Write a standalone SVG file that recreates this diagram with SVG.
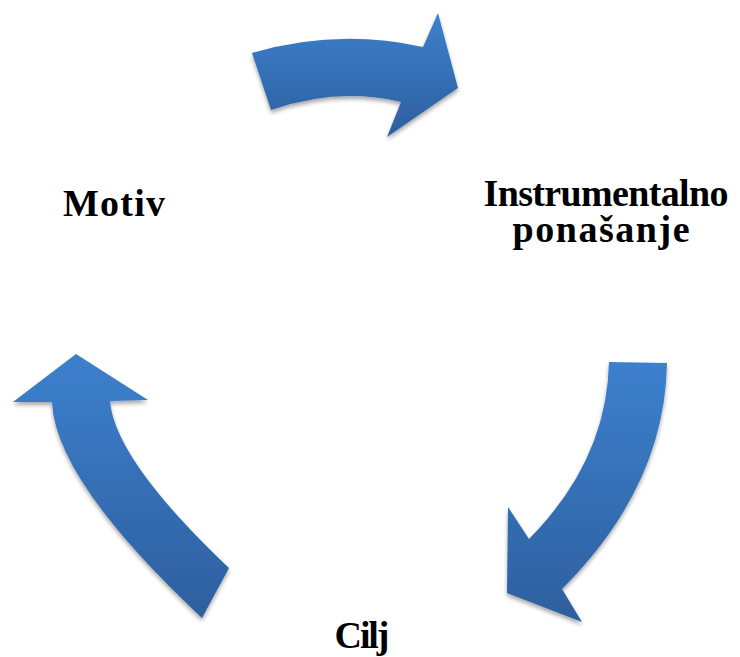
<svg xmlns="http://www.w3.org/2000/svg" width="740" height="657" viewBox="0 0 740 657">
<defs>
<linearGradient id="g" x1="0" y1="0" x2="0" y2="1">
<stop offset="0" stop-color="#3d80cd"/>
<stop offset="1" stop-color="#2d5f9f"/>
</linearGradient>
<filter id="sh" x="-20%" y="-20%" width="140%" height="140%">
<feGaussianBlur in="SourceAlpha" stdDeviation="2"/>
<feOffset dx="0" dy="3" result="b"/>
<feComponentTransfer><feFuncA type="linear" slope="0.35"/></feComponentTransfer>
<feMerge><feMergeNode/><feMergeNode in="SourceGraphic"/></feMerge>
</filter>
<style>
.arrow{fill:url(#g);filter:url(#sh)}
.lbl{font-family:"Liberation Serif","Times New Roman",serif;font-weight:bold;font-size:38px;fill:#000;text-anchor:middle}
</style>
</defs>
<g id="connectors">
<path id="arrow-top" class="arrow" d="M252,53 Q337,28 423,47 L438,13 L458,88 L387,137 L401,102 Q338,87 271,110 Z"/>
<path id="arrow-right" class="arrow" d="M609,362 L667,363 Q665,486 562,589 L582,622 L507,593 L508,507 L529,539 Q607,460 609,362 Z"/>
<path id="arrow-left" class="arrow" d="M76,354 L148,400 L110,401 Q115,460 229,568 L202,618 Q55,480 52,402 L13,402 Z"/>
</g>
<g id="node-motiv"><text class="lbl" x="114" y="216" textLength="102" lengthAdjust="spacing">Motiv</text></g>
<g id="node-instrumentalno"><text class="lbl" x="606" y="206" textLength="245" lengthAdjust="spacing">Instrumentalno</text><text class="lbl" x="601" y="242" textLength="177" lengthAdjust="spacing">ponašanje</text></g>
<g id="node-cilj"><text class="lbl" x="362" y="648" textLength="55" lengthAdjust="spacing">Cilj</text></g>
</svg>
